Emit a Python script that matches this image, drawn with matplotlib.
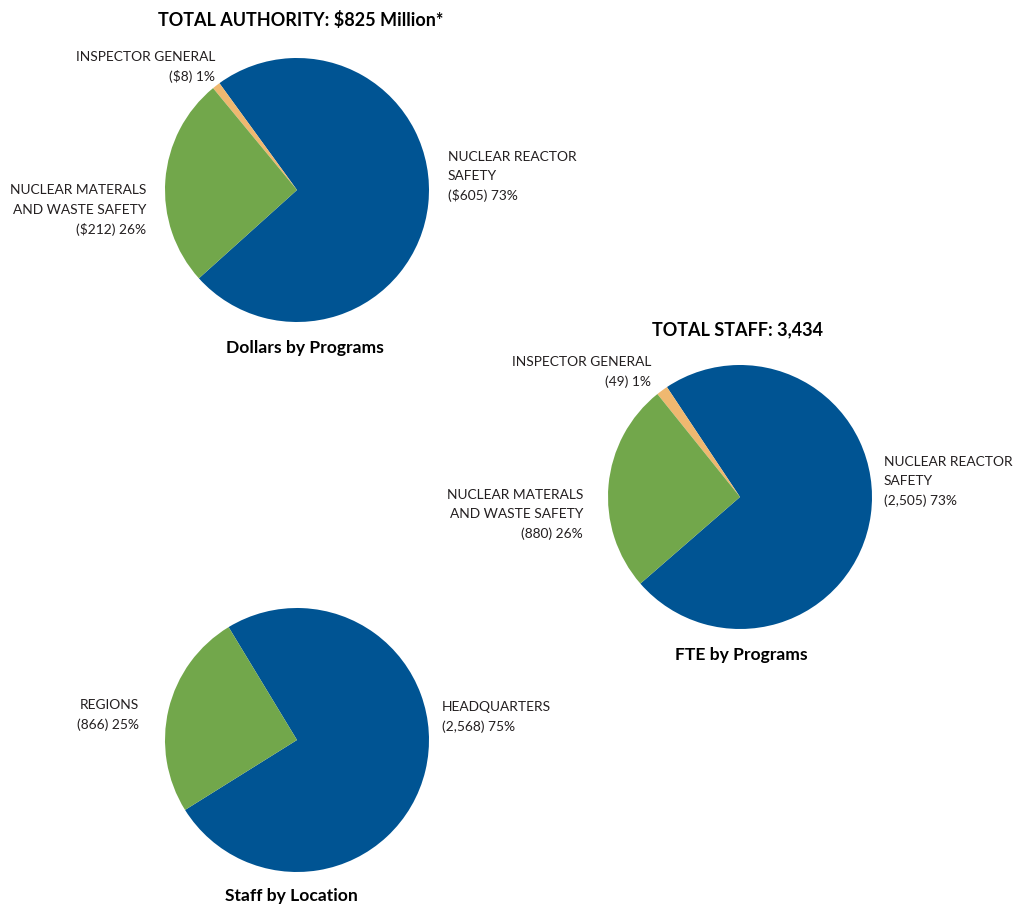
import matplotlib
matplotlib.use("Agg")
import matplotlib.pyplot as plt

# Dollars by programs ($ millions)
dollar_labels = ["NUCLEAR REACTOR\nSAFETY", "INSPECTOR GENERAL", "NUCLEAR MATERALS\nAND WASTE SAFETY"]
dollar_values = [605, 8, 212]
dollar_pcts = [73, 1, 26]

# FTE by programs
fte_labels = ["NUCLEAR REACTOR\nSAFETY", "INSPECTOR GENERAL", "NUCLEAR MATERALS\nAND WASTE SAFETY"]
fte_values = [2505, 49, 880]
fte_pcts = [73, 1, 26]

# Staff by location
loc_labels = ["HEADQUARTERS", "REGIONS"]
loc_values = [2568, 866]
loc_pcts = [75, 25]

COL_BLUE = "#005493"
COL_ORANGE = "#efb870"
COL_GREEN = "#72a74b"
TXT = "#231f20"

W, H = 1018, 905
FONT = "Lato"
LABEL_SIZE = 9.9
TITLE_SIZE = 13
SUB_SIZE = 12.6

fig = plt.figure(figsize=(W / 100, H / 100), dpi=100)
ax = fig.add_axes([0, 0, 1, 1])


def Y(y):
    return H - y


def draw_lines(text, x, y0, ha, step=19.5, size=LABEL_SIZE):
    for i, line in enumerate(text.split("\n")):
        ax.text(x, Y(y0 + i * step), line, ha=ha, va="center",
                fontsize=size, family=FONT, color=TXT)


def heading(x, y, s, size):
    ax.text(x, Y(y), s, ha="center", va="center", fontsize=size,
            fontweight="bold", family=FONT, color="black")


# ---- Dollars by Programs ----
ax.pie(dollar_values, colors=[COL_BLUE, COL_ORANGE, COL_GREEN], startangle=222,
       counterclock=True, center=(297, Y(190)), radius=132,
       wedgeprops=dict(linewidth=0))
heading(301, 20, "TOTAL AUTHORITY: $825 Million*", TITLE_SIZE)
draw_lines(f"{dollar_labels[0]}\n(${dollar_values[0]}) {dollar_pcts[0]}%", 448, 157, "left")
draw_lines(f"{dollar_labels[1]}\n(${dollar_values[1]}) {dollar_pcts[1]}%", 215, 57, "right")
draw_lines(f"{dollar_labels[2]}\n(${dollar_values[2]}) {dollar_pcts[2]}%", 146, 190, "right")
heading(305, 348, "Dollars by Programs", SUB_SIZE)

# ---- FTE by Programs ----
ax.pie(fte_values, colors=[COL_BLUE, COL_ORANGE, COL_GREEN], startangle=221,
       counterclock=True, center=(740, Y(497)), radius=132,
       wedgeprops=dict(linewidth=0))
heading(738, 330, "TOTAL STAFF: 3,434", TITLE_SIZE)
draw_lines(f"{fte_labels[0]}\n({fte_values[0]:,}) {fte_pcts[0]}%", 884, 462, "left")
draw_lines(f"{fte_labels[1]}\n({fte_values[1]}) {fte_pcts[1]}%", 651, 362, "right")
draw_lines(f"{fte_labels[2]}\n({fte_values[2]}) {fte_pcts[2]}%", 583, 495, "right")
heading(741, 655, "FTE by Programs", SUB_SIZE)

# ---- Staff by Location ----
ax.pie(loc_values, colors=[COL_BLUE, COL_GREEN], startangle=212,
       counterclock=True, center=(297, Y(740)), radius=132,
       wedgeprops=dict(linewidth=0))
draw_lines(f"{loc_labels[0]}\n({loc_values[0]:,}) {loc_pcts[0]}%", 442, 707, "left")
draw_lines(f"{loc_labels[1]}\n({loc_values[1]}) {loc_pcts[1]}%", 139, 705, "right")
heading(291, 896, "Staff by Location", SUB_SIZE)

ax.set_xlim(0, W)
ax.set_ylim(0, H)
ax.set_aspect("equal")
ax.axis("off")

fig.savefig("out.png", dpi=100, facecolor="white")
